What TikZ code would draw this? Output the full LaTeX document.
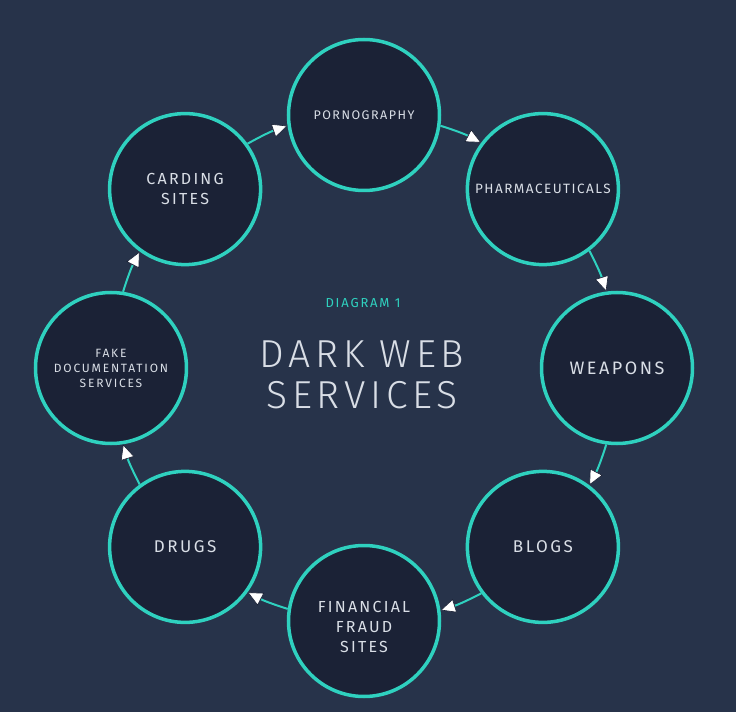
\documentclass[tikz,border=0pt]{standalone}
\usepackage{fontspec}
\setmainfont{Fira Sans}
\newfontfamily\lightfont{Fira Sans Light}
\usetikzlibrary{arrows.meta}
\definecolor{bgnavy}{HTML}{27334A}
\definecolor{disc}{HTML}{1B2236}
\definecolor{ringteal}{HTML}{2FD1BF}
\definecolor{txt}{HTML}{D9DEE6}
\begin{document}
\begin{tikzpicture}[x=1pt,y=1pt,
  svc/.style={circle, draw=ringteal, fill=disc, line width=3.5pt, minimum size=151pt,
    inner sep=0pt, text=txt, align=center},
  conn/.style={draw=ringteal, line width=2pt,
    -{Triangle[length=15pt,width=14pt,fill=white,color=disc,line width=0.6pt]}},
]
\fill[bgnavy] (-364,-344) rectangle (372,368);
\useasboundingbox (-364,-344) rectangle (372,368);

\node[svc, font=\fontsize{12.5}{15}\selectfont\addfontfeatures{LetterSpace=12}] (porn) at (90:253pt) {PORNOGRAPHY};
\node[svc, font=\fontsize{13.5}{15}\selectfont\addfontfeatures{LetterSpace=11}] (pharm) at (45:253pt) {PHARMACEUTICALS};
\node[svc, font=\fontsize{18}{21}\selectfont\addfontfeatures{LetterSpace=14}] (weap) at (0:253pt) {WEAPONS};
\node[svc, font=\fontsize{17}{21}\selectfont\addfontfeatures{LetterSpace=15}] (blogs) at (-45:253pt) {BLOGS};
\node[svc, font=\fontsize{16}{20}\selectfont\addfontfeatures{LetterSpace=14}, text height=63pt, text depth=0pt] (fin) at (-90:253pt) {FINANCIAL\\FRAUD\\SITES};
\node[svc, font=\fontsize{17}{21}\selectfont\addfontfeatures{LetterSpace=15}] (drugs) at (-135:253pt) {DRUGS};
\node[svc, font=\fontsize{12}{15}\selectfont\addfontfeatures{LetterSpace=15}] (fake) at (180:253pt) {FAKE\\DOCUMENTATION\\SERVICES};
\node[svc, font=\fontsize{16}{20}\selectfont\addfontfeatures{LetterSpace=14}] (card) at (135:253pt) {CARDING\\SITES};

\draw[conn] (card.36.2) to[bend left=5] (porn.188.8);
\draw[conn] (porn.-8.8) to[bend left=5] (pharm.143.8);
\draw[conn] (pharm.-53.8) to[bend left=5] (weap.98.8);
\draw[conn] (weap.-98.8) to[bend left=5] (blogs.53.8);
\draw[conn] (blogs.-143.8) to[bend left=5] (fin.8.8);
\draw[conn] (fin.171.2) to[bend left=5] (drugs.-36.2);
\draw[conn] (drugs.126.2) to[bend left=5] (fake.-81.2);
\draw[conn] (fake.81.2) to[bend left=5] (card.-126.2);

\node[text=ringteal, font=\fontsize{13}{15}\selectfont\addfontfeatures{LetterSpace=14}] (dlabel) at (-1,65) {DIAGRAM 1};
\node[text=txt, align=center, font=\lightfont\fontsize{39}{41}\selectfont\addfontfeatures{LetterSpace=12}] (title) at (-2,-7) {DARK WEB\\SERVICES};
\end{tikzpicture}
\end{document}
